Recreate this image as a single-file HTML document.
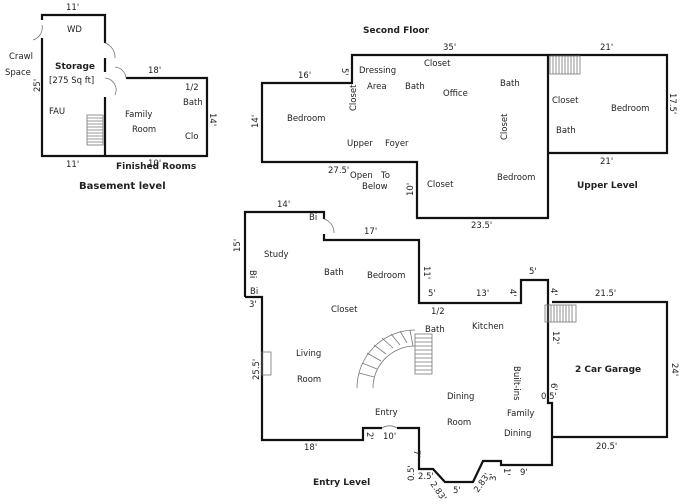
<!DOCTYPE html>
<html><head><meta charset="utf-8"><style>
html,body{margin:0;padding:0;background:#fff;}
svg{display:block;}
text{font-family:"DejaVu Sans","Liberation Sans",sans-serif;font-size:8.5px;fill:#222;}
.b{font-weight:bold;font-size:9px;}
.w{fill:none;stroke:#111;stroke-width:2.2;}
.t{fill:none;stroke:#777;stroke-width:0.8;}
</style></head><body>
<svg width="680" height="504" viewBox="0 0 680 504" xmlns="http://www.w3.org/2000/svg">
<!-- Basement -->
<path class="w" d="M42 20 V15 H105 V43 M105 58 V72 M42 38 V156 H207 V78 H126 M105 97 V156"/>
<path class="t" d="M42 25 A13 13 0 0 1 33 40 M105 43 A15 15 0 0 1 115 58 M115 67 A12 12 0 0 1 126 78 M105 78 A12 12 0 0 1 115 95"/>
<g class="t"><rect x="87" y="115" width="16" height="30"/>
<path d="M87 118H103M87 121H103M87 124H103M87 127H103M87 130H103M87 133H103M87 136H103M87 139H103M87 142H103"/></g>
<text x="66" y="10">11'</text><text x="67" y="32">WD</text>
<text x="9" y="59">Crawl</text><text x="5" y="75">Space</text>
<text x="55" y="69" class="b">Storage</text><text x="49" y="83">[275 Sq ft]</text>
<text x="40" y="92" transform="rotate(-90 40 92)">25'</text>
<text x="49" y="114">FAU</text>
<text x="148" y="73">18'</text><text x="185" y="90">1/2</text><text x="183" y="105">Bath</text>
<text x="125" y="117">Family</text><text x="132" y="132">Room</text><text x="185" y="139">Clo</text>
<text x="210" y="113" transform="rotate(90 210 113)">14'</text>
<text x="66" y="167">11'</text><text x="116" y="169" class="b">Finished Rooms</text><text x="148" y="166">10'</text>
<text x="79" y="189" class="b" style="font-size:10px">Basement level</text>

<!-- Second floor -->
<path class="w" d="M262 83 H352 V55 H548 V218 H417 V162 H262 Z M548 55 H667 V153 H548"/>
<g class="t"><rect x="550" y="56" width="30" height="18"/>
<path d="M553 56V74M556 56V74M559 56V74M562 56V74M565 56V74M568 56V74M571 56V74M574 56V74M577 56V74"/></g>
<text x="363" y="33" class="b">Second Floor</text>
<text x="443" y="50">35'</text><text x="600" y="50">21'</text>
<text x="298" y="78">16'</text><text x="342" y="68" transform="rotate(90 342 68)">5'</text>
<text x="359" y="73">Dressing</text><text x="424" y="66">Closet</text>
<text x="367" y="89">Area</text><text x="405" y="89">Bath</text><text x="443" y="96">Office</text><text x="500" y="86">Bath</text>
<text x="356" y="111" transform="rotate(-90 356 111)">Closet</text>
<text x="258" y="128" transform="rotate(-90 258 128)">14'</text>
<text x="287" y="121">Bedroom</text>
<text x="347" y="146">Upper</text><text x="385" y="146">Foyer</text>
<text x="507" y="140" transform="rotate(-90 507 140)">Closet</text>
<text x="552" y="103">Closet</text><text x="611" y="111">Bedroom</text><text x="556" y="133">Bath</text>
<text x="670" y="93" transform="rotate(90 670 93)">17.5'</text>
<text x="600" y="164">21'</text>
<text x="328" y="173">27.5'</text><text x="350" y="178">Open</text><text x="381" y="178">To</text><text x="362" y="189">Below</text>
<text x="413" y="196" transform="rotate(-90 413 196)">10'</text>
<text x="427" y="187">Closet</text><text x="497" y="180">Bedroom</text>
<text x="577" y="188" class="b">Upper Level</text>
<text x="471" y="228">23.5'</text>

<!-- Entry level -->
<path class="w" d="M245 297 V212 H324 V219 M324 234 V240 H419 V303 H521 V280 H548 V403 H552 V465 H501 V461 H483 L473 482 H445 L433 469 H419 V428 H397 M382 428 H363 V440 H262 V297 H245 M552 302 H667 V437 H552"/>
<path class="t" d="M324 219 A14 14 0 0 1 334 233 M382 428 A14 14 0 0 1 397 428"/>
<rect class="t" x="262" y="352" width="9" height="23"/>
<g class="t"><rect x="545" y="305" width="31" height="17"/>
<path d="M548 305V322M551 305V322M554 305V322M557 305V322M560 305V322M563 305V322M566 305V322M569 305V322M572 305V322"/></g>
<g class="t"><path d="M357 388 A58 58 0 0 1 415 330 M373 388 A42 42 0 0 1 415 346"/>
<path d="M359 373L374 377M362 363L377 369M367 353L381 361M374 345L386 354M382 338L393 348M391 334L400 345M400 331L407 343M410 330L413 346"/>
<rect x="415" y="334" width="17" height="40"/>
<path d="M415 338H432M415 342H432M415 346H432M415 350H432M415 354H432M415 358H432M415 362H432M415 366H432M415 370H432"/></g>
<text x="277" y="207">14'</text><text x="309" y="220">Bi</text><text x="364" y="234">17'</text>
<text x="240" y="252" transform="rotate(-90 240 252)">15'</text>
<text x="264" y="257">Study</text><text x="324" y="275">Bath</text><text x="367" y="278">Bedroom</text>
<text x="424" y="266" transform="rotate(90 424 266)">11'</text>
<text x="250" y="270" transform="rotate(90 250 270)">Bi</text><text x="250" y="294">Bi</text>
<text x="249" y="307">3'</text>
<text x="428" y="296">5'</text><text x="476" y="296">13'</text>
<text x="510" y="289" transform="rotate(90 510 289)">4'</text>
<text x="529" y="274">5'</text>
<text x="551" y="288" transform="rotate(90 551 288)">4'</text>
<text x="595" y="296">21.5'</text>
<text x="331" y="312">Closet</text><text x="431" y="314">1/2</text><text x="425" y="332">Bath</text><text x="472" y="329">Kitchen</text>
<text x="553" y="331" transform="rotate(90 553 331)">12'</text>
<text x="296" y="356">Living</text><text x="297" y="382">Room</text>
<text x="259" y="380" transform="rotate(-90 259 380)">25.5'</text>
<text x="514" y="366" transform="rotate(90 514 366)">Built-ins</text>
<text x="575" y="372" class="b">2 Car Garage</text>
<text x="672" y="363" transform="rotate(90 672 363)">24'</text>
<text x="551" y="383" transform="rotate(90 551 383)">6'</text>
<text x="541" y="399">0.5'</text>
<text x="447" y="399">Dining</text><text x="375" y="415">Entry</text>
<text x="507" y="416">Family</text><text x="447" y="425">Room</text><text x="504" y="436">Dining</text>
<text x="367" y="432" transform="rotate(90 367 432)">2'</text><text x="383" y="439">10'</text>
<text x="596" y="449">20.5'</text><text x="304" y="450">18'</text>
<text x="414" y="450" transform="rotate(90 414 450)">7'</text>
<text x="414" y="481" transform="rotate(-90 414 481)">0.5'</text>
<text x="418" y="479">2.5'</text>
<text x="430" y="484" transform="rotate(55 430 484)">2.83'</text>
<text x="453" y="493">5'</text>
<text x="478" y="493" transform="rotate(-55 478 493)">2.83'</text>
<text x="496" y="481" transform="rotate(-90 496 481)">3'</text>
<text x="504" y="468" transform="rotate(90 504 468)">1'</text>
<text x="520" y="475">9'</text>
<text x="313" y="485" class="b">Entry Level</text>
</svg>
</body></html>
